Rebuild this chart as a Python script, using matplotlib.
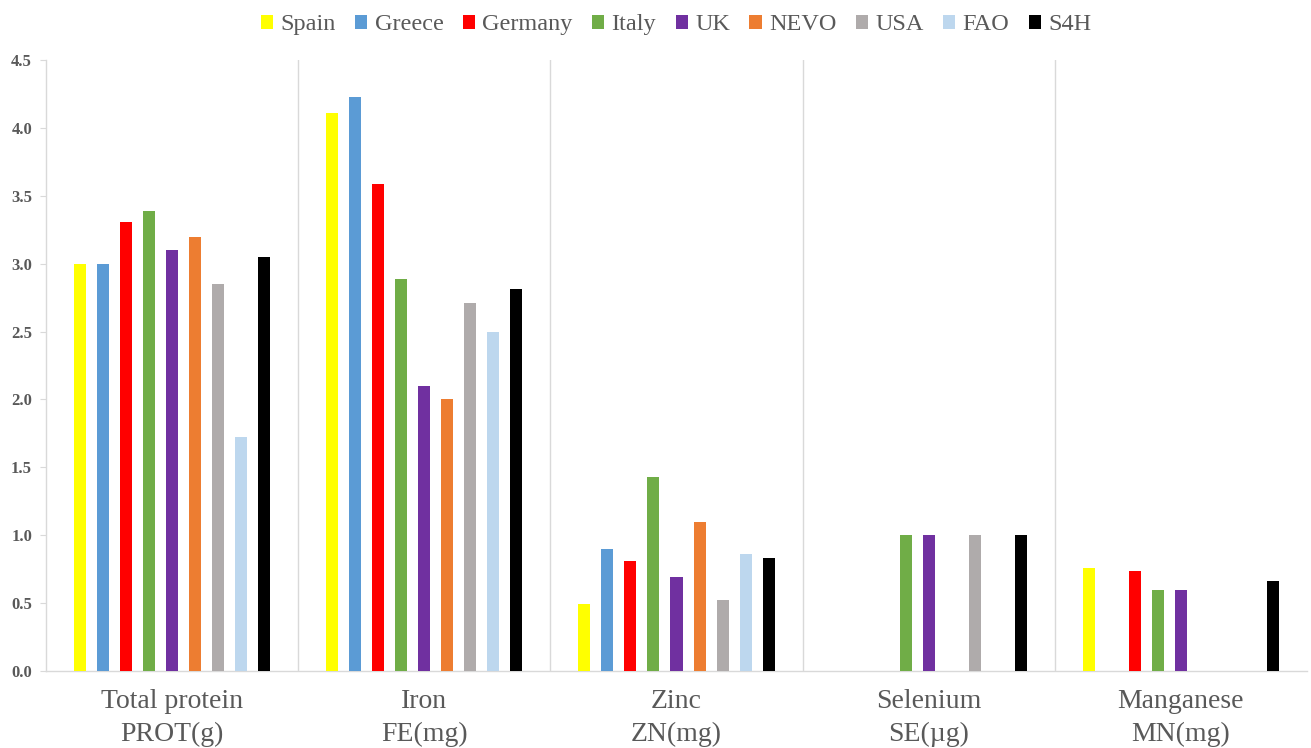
## Nutrient composition by food composition database
import numpy as np
import matplotlib
matplotlib.use("Agg")
import matplotlib.pyplot as plt
from matplotlib.patches import Patch

nan = np.nan

## Categories and series
categories = ["Total protein\nPROT(g)", "Iron\nFE(mg)", "Zinc\nZN(mg)",
              "Selenium\nSE(\u00b5g)", "Manganese\nMN(mg)"]
sources = ["Spain", "Greece", "Germany", "Italy", "UK", "NEVO", "USA", "FAO", "S4H"]

spain   = [3.00, 4.11, 0.49, nan, 0.76]
greece  = [3.00, 4.23, 0.90, nan, nan]
germany = [3.31, 3.59, 0.81, nan, 0.74]
italy   = [3.39, 2.89, 1.43, 1.00, 0.60]
uk      = [3.10, 2.10, 0.69, 1.00, 0.60]
nevo    = [3.20, 2.00, 1.10, nan, nan]
usa     = [2.85, 2.71, 0.52, 1.00, nan]
fao     = [1.72, 2.50, 0.86, nan, nan]
s4h     = [3.05, 2.81, 0.83, 1.00, 0.66]

series = [spain, greece, germany, italy, uk, nevo, usa, fao, s4h]
colors = ["#FFFF00", "#5B9BD5", "#FF0000", "#70AD47", "#7030A0",
          "#ED7D31", "#AFABAB", "#BDD7EE", "#000000"]

yticks = np.arange(0, 4.51, 0.5)

## Figure
plt.rcParams['font.family'] = ['Liberation Serif', 'DejaVu Serif']
txt = "#595959"
grid = "#D9D9D9"

fig = plt.figure(figsize=(13.11, 7.48), dpi=100)
ax = fig.add_axes([46/1311, 77/748, 1261/1311, 611/748])

step = 23/252.0
width = 12/252.0
x = np.arange(len(categories))
for j, vals in enumerate(series):
    ax.bar(x + (j - 4)*step, vals, width=width, color=colors[j], label=sources[j], zorder=3)

for b in np.arange(0.5, len(categories) - 0.5, 1.0):
    ax.axvline(b, color=grid, lw=1.0, zorder=1)

ax.set_xlim(-0.5, len(categories) - 0.5)
ax.set_ylim(0, 4.5)
ax.set_yticks(yticks)
ax.set_yticklabels(["%.1f" % v for v in yticks], fontsize=12, fontweight='bold', color=txt)
ax.set_xticks(x)
ax.set_xticklabels(categories, fontsize=20, color=txt, linespacing=1.42)
ax.tick_params(axis='x', length=0, pad=13)
ax.tick_params(axis='y', length=4, color=grid, pad=6)

for s in ['top', 'right']:
    ax.spines[s].set_visible(False)
for s in ['left', 'bottom']:
    ax.spines[s].set_color(grid)
    ax.spines[s].set_linewidth(1.0)

# legend centred over the plot area
handles = [Patch(facecolor=c, edgecolor='none') for c in colors]
leg = fig.legend(handles, sources, loc='upper center', bbox_to_anchor=(676/1311, 1.01), ncol=9,
                 frameon=False, fontsize=17.5, handlelength=0.5, handleheight=0.5,
                 handletextpad=0.3, columnspacing=0.8)
for t in leg.get_texts():
    t.set_color(txt)

fig.savefig("out.png", dpi=100)
